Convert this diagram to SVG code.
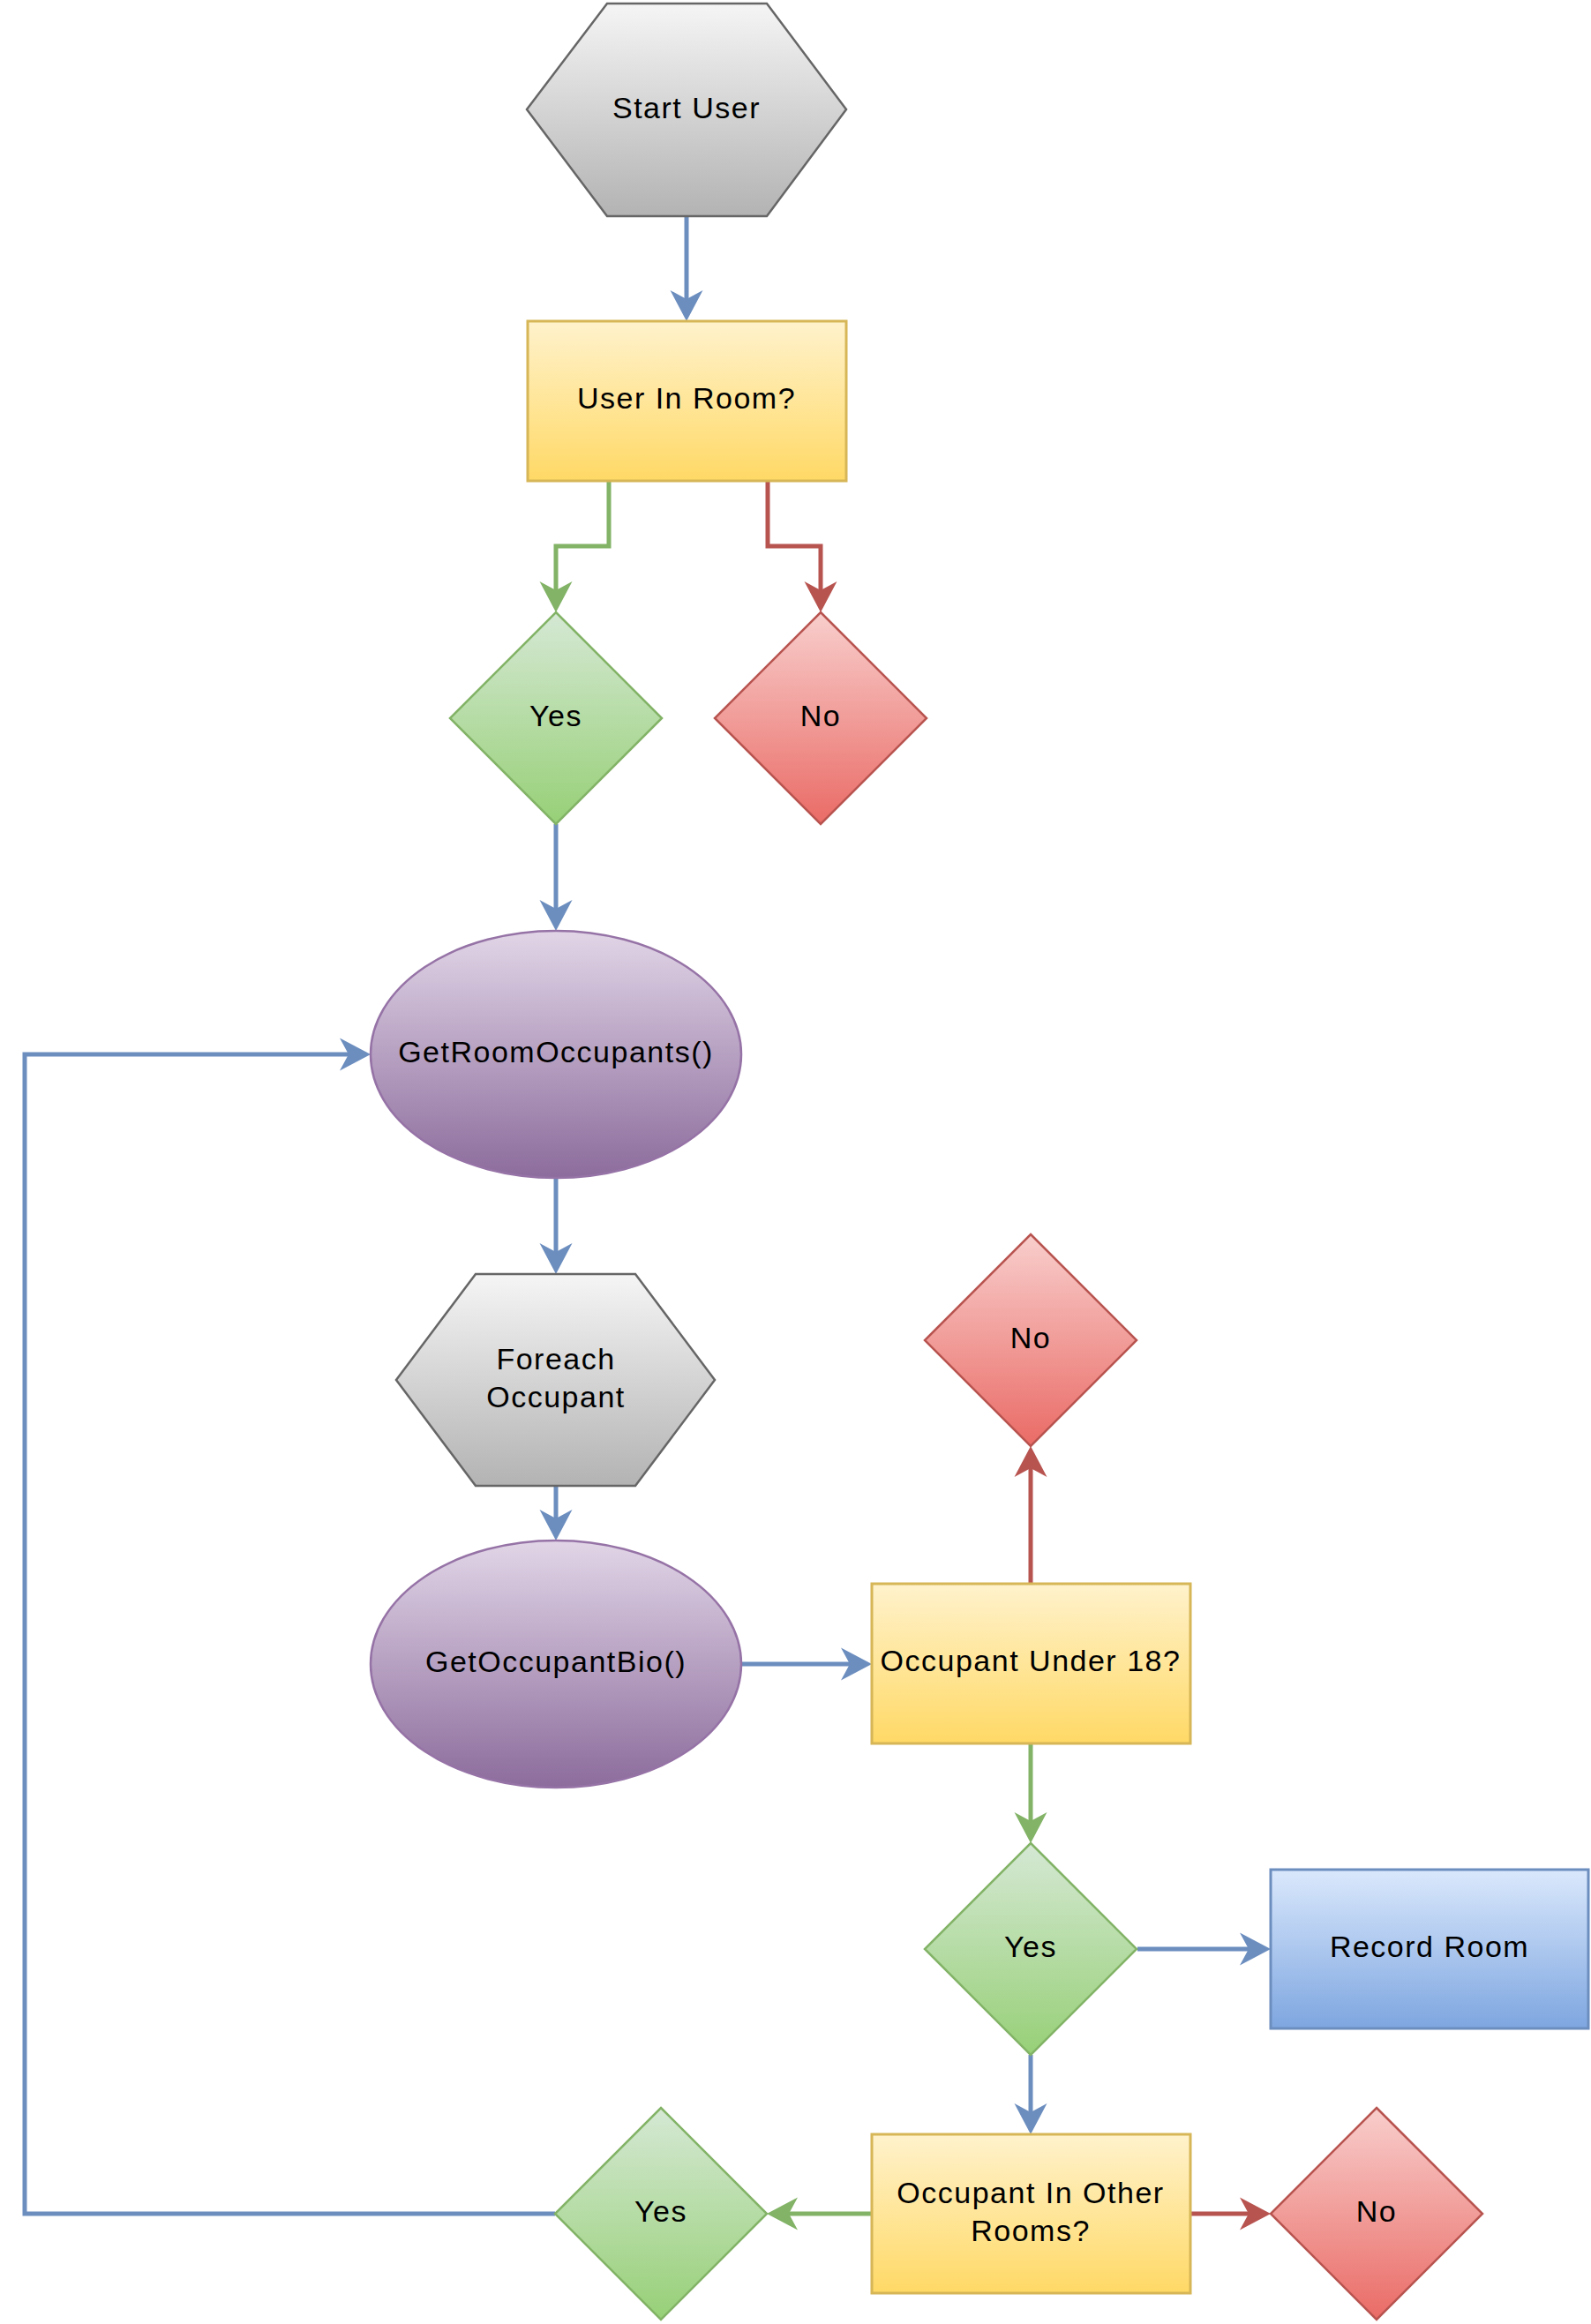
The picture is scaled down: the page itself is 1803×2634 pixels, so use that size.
<svg xmlns="http://www.w3.org/2000/svg" width="1803" height="2634" viewBox="0 0 1803 2634">
<style>
text{font-family:"Liberation Sans",Arial,Helvetica,sans-serif;font-size:34px;letter-spacing:1.5px;fill:#000;text-anchor:middle}
.e{fill:none;stroke-width:5;stroke-linejoin:miter}
.b{stroke:#6c8ebf}.g{stroke:#82b366}.r{stroke:#b85450}
.hex{fill:url(#gGray);stroke:#666666;stroke-width:2.5}
.yel{fill:url(#gYel);stroke:#d6b656;stroke-width:3}
.grn{fill:url(#gGrn);stroke:#82b366;stroke-width:2.5}
.red{fill:url(#gRed);stroke:#b85450;stroke-width:2.5}
.pur{fill:url(#gPur);stroke:#9673a6;stroke-width:2.5}
.blu{fill:url(#gBlu);stroke:#6c8ebf;stroke-width:3}
</style>
<defs>
<linearGradient id="gGray" x1="0" y1="0" x2="0" y2="1"><stop offset="0" stop-color="#f5f5f5"/><stop offset="1" stop-color="#b3b3b3"/></linearGradient>
<linearGradient id="gYel" x1="0" y1="0" x2="0" y2="1"><stop offset="0" stop-color="#fff2cc"/><stop offset="1" stop-color="#ffd966"/></linearGradient>
<linearGradient id="gGrn" x1="0" y1="0" x2="0" y2="1"><stop offset="0" stop-color="#d5e8d4"/><stop offset="1" stop-color="#97d077"/></linearGradient>
<linearGradient id="gRed" x1="0" y1="0" x2="0" y2="1"><stop offset="0" stop-color="#f8cecc"/><stop offset="1" stop-color="#ea6b66"/></linearGradient>
<linearGradient id="gPur" x1="0" y1="0" x2="0" y2="1"><stop offset="0" stop-color="#e1d5e7"/><stop offset="1" stop-color="#8c6c9c"/></linearGradient>
<linearGradient id="gBlu" x1="0" y1="0" x2="0" y2="1"><stop offset="0" stop-color="#dae8fc"/><stop offset="1" stop-color="#7ea6e0"/></linearGradient>
<marker id="aB" markerUnits="userSpaceOnUse" viewBox="-1 -20 38 40" markerWidth="38" markerHeight="40" refX="10" refY="0" orient="auto"><path d="M35,0 L0,-18.5 L10,0 L0,18.5 Z" fill="#6c8ebf"/></marker>
<marker id="aG" markerUnits="userSpaceOnUse" viewBox="-1 -20 38 40" markerWidth="38" markerHeight="40" refX="10" refY="0" orient="auto"><path d="M35,0 L0,-18.5 L10,0 L0,18.5 Z" fill="#82b366"/></marker>
<marker id="aR" markerUnits="userSpaceOnUse" viewBox="-1 -20 38 40" markerWidth="38" markerHeight="40" refX="10" refY="0" orient="auto"><path d="M35,0 L0,-18.5 L10,0 L0,18.5 Z" fill="#b85450"/></marker>
</defs>
<g id="connectors">
<path class="e b" d="M778,245 L778,339" marker-end="url(#aB)"/>
<path class="e g" d="M690,545 L690,619 L630,619 L630,669" marker-end="url(#aG)"/>
<path class="e r" d="M870,545 L870,619 L930,619 L930,669" marker-end="url(#aR)"/>
<path class="e b" d="M630,934 L630,1030" marker-end="url(#aB)"/>
<path class="e b" d="M629,2509 L28,2509 L28,1195 L395,1195" marker-end="url(#aB)"/>
<path class="e b" d="M630,1336 L630,1419" marker-end="url(#aB)"/>
<path class="e b" d="M630,1684 L630,1721" marker-end="url(#aB)"/>
<path class="e b" d="M840,1886 L963,1886" marker-end="url(#aB)"/>
<path class="e r" d="M1168,1795 L1168,1664" marker-end="url(#aR)"/>
<path class="e g" d="M1168,1976 L1168,2064" marker-end="url(#aG)"/>
<path class="e b" d="M1289,2209 L1415,2209" marker-end="url(#aB)"/>
<path class="e b" d="M1168,2329 L1168,2394" marker-end="url(#aB)"/>
<path class="e g" d="M988,2509 L894,2509" marker-end="url(#aG)"/>
<path class="e r" d="M1350,2509 L1415,2509" marker-end="url(#aR)"/>
</g>
<g id="start-user">
<polygon class="hex" points="688,4 869,4 959,124 869,245 688,245 597,124"/>
<text x="778" y="134">Start User</text>
</g>
<g id="user-in-room">
<rect class="yel" x="598" y="364" width="361" height="181"/>
<text x="778" y="463">User In Room?</text>
</g>
<g id="yes-1">
<polygon class="grn" points="630,694 750,814 630,934 510,814"/>
<text x="630" y="823">Yes</text>
</g>
<g id="no-1">
<polygon class="red" points="930,694 1050,814 930,934 810,814"/>
<text x="930" y="823">No</text>
</g>
<g id="get-room-occupants">
<ellipse class="pur" cx="630" cy="1195" rx="210" ry="140"/>
<text x="630" y="1204">GetRoomOccupants()</text>
</g>
<g id="foreach-occupant">
<polygon class="hex" points="539,1444 720,1444 810,1564 720,1684 539,1684 449,1564"/>
<text x="630" y="1552">Foreach</text>
<text x="630" y="1595">Occupant</text>
</g>
<g id="get-occupant-bio">
<ellipse class="pur" cx="630" cy="1886" rx="210" ry="140"/>
<text x="630" y="1895">GetOccupantBio()</text>
</g>
<g id="occupant-under-18">
<rect class="yel" x="988" y="1795" width="361" height="181"/>
<text x="1168" y="1894">Occupant Under 18?</text>
</g>
<g id="no-2">
<polygon class="red" points="1168,1399 1288,1519 1168,1639 1048,1519"/>
<text x="1168" y="1528">No</text>
</g>
<g id="yes-3">
<polygon class="grn" points="1168,2089 1288,2209 1168,2329 1048,2209"/>
<text x="1168" y="2218">Yes</text>
</g>
<g id="record-room">
<rect class="blu" x="1440" y="2119" width="360" height="180"/>
<text x="1620" y="2218">Record Room</text>
</g>
<g id="occupant-in-other-rooms">
<rect class="yel" x="988" y="2419" width="361" height="180"/>
<text x="1168" y="2497">Occupant In Other</text>
<text x="1168" y="2540">Rooms?</text>
</g>
<g id="yes-2">
<polygon class="grn" points="749,2389 869,2509 749,2629 629,2509"/>
<text x="749" y="2518">Yes</text>
</g>
<g id="no-3">
<polygon class="red" points="1560,2389 1680,2509 1560,2629 1440,2509"/>
<text x="1560" y="2518">No</text>
</g>
</svg>
